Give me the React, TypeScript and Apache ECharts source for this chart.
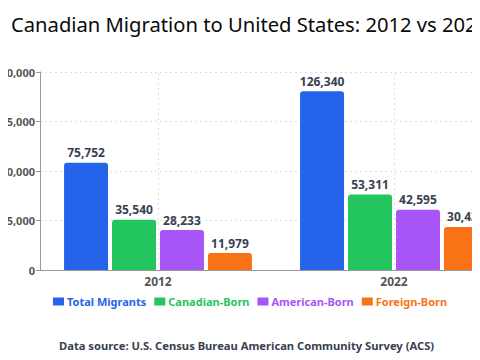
import React, { useEffect, useRef } from "react";
import * as echarts from "echarts";

const years = ["2012", "2022"];
const seriesNames = ["Total Migrants", "Canadian-Born", "American-Born", "Foreign-Born"];
const totalMigrants = [75752, 126340];
const canadianBorn = [35540, 53311];
const americanBorn = [28233, 42595];
const foreignBorn = [11979, 30434];
const seriesColors = ["#2563eb", "#22c55e", "#a855f7", "#f97316"];
const yTicks = { min: 0, max: 140000, interval: 35000 };

const FONT = "'Noto Sans', 'Open Sans', sans-serif";

export default function App() {
  const ref = useRef<HTMLDivElement>(null);
  useEffect(() => {
    if (!ref.current) return;
    const chart = echarts.init(ref.current, null, { renderer: "svg" });
    const values = [totalMigrants, canadianBorn, americanBorn, foreignBorn];
    const fmt = (v: number) => v.toLocaleString("en-US");
    const bars = seriesNames.map((n, i) => ({
      name: n,
      type: "bar",
      data: values[i],
      barWidth: 44,
      barGap: "9%",
      z: 3,
      itemStyle: { color: seriesColors[i], borderRadius: [3, 3, 0, 0] },
      label: {
        show: true,
        position: "top",
        distance: 4,
        color: "#374151",
        fontWeight: "bold",
        fontSize: 12,
        formatter: (p: any) => fmt(p.value),
      },
    }));
    chart.setOption({
      animation: false,
      textStyle: { fontFamily: FONT },
      title: [
        {
          text: "Canadian Migration to United States: 2012 vs 2022",
          left: 22,
          top: 1,
          textStyle: { fontSize: 20.2, fontWeight: "normal", color: "#0a0a0a", fontFamily: FONT },
        },
        {
          text: "Data source: U.S. Census Bureau American Community Survey (ACS)",
          left: 70,
          top: 327,
          textStyle: { fontSize: 11.2, fontWeight: "bold", color: "#374151", fontFamily: FONT },
        },
      ],
      legend: {
        top: 283,
        left: 64,
        icon: "rect",
        itemWidth: 11,
        itemHeight: 8,
        itemGap: 8,
        data: seriesNames.map((n, i) => ({
          name: n,
          textStyle: {
            color: seriesColors[i],
            fontWeight: "bold",
            fontSize: 11,
            fontFamily: FONT,
            padding: [0, 0, 0, -2],
          },
        })),
      },
      grid: { left: 56, right: -16, top: 64, bottom: 98, containLabel: false, outerBoundsMode: "none" },
      xAxis: {
        type: "category",
        data: years,
        axisLine: { lineStyle: { color: "#999" } },
        axisTick: { alignWithLabel: true, lineStyle: { color: "#999" } },
        axisLabel: { color: "#555", fontWeight: "bold", fontSize: 12, margin: 5 },
        splitLine: { show: false },
      },
      yAxis: {
        type: "value",
        min: yTicks.min,
        max: yTicks.max,
        interval: yTicks.interval,
        axisLine: { show: true, lineStyle: { color: "#999" } },
        axisTick: { show: true, length: 4, lineStyle: { color: "#999" } },
        axisLabel: { color: "#555", fontWeight: "bold", fontSize: 11, margin: 5, formatter: (v: number) => fmt(v) },
        splitLine: { lineStyle: { color: "#ddd", type: [2, 3] } },
      },
      series: [
        ...bars,
        {
          name: "grid-lines",
          type: "line",
          data: years.map(() => null),
          showSymbol: false,
          silent: true,
          z: 1,
          markLine: {
            silent: true,
            symbol: "none",
            label: { show: false },
            lineStyle: { color: "#ddd", type: [2, 3], width: 1 },
            data: years.map((y) => ({ xAxis: y })),
          },
        },
      ],
    });
    return () => chart.dispose();
  }, []);
  return (
    <div style={{ marginLeft: -8, width: 488, overflow: "hidden" }}>
      <div ref={ref} style={{ marginLeft: -16, width: 512, height: 360 }} />
    </div>
  );
}
